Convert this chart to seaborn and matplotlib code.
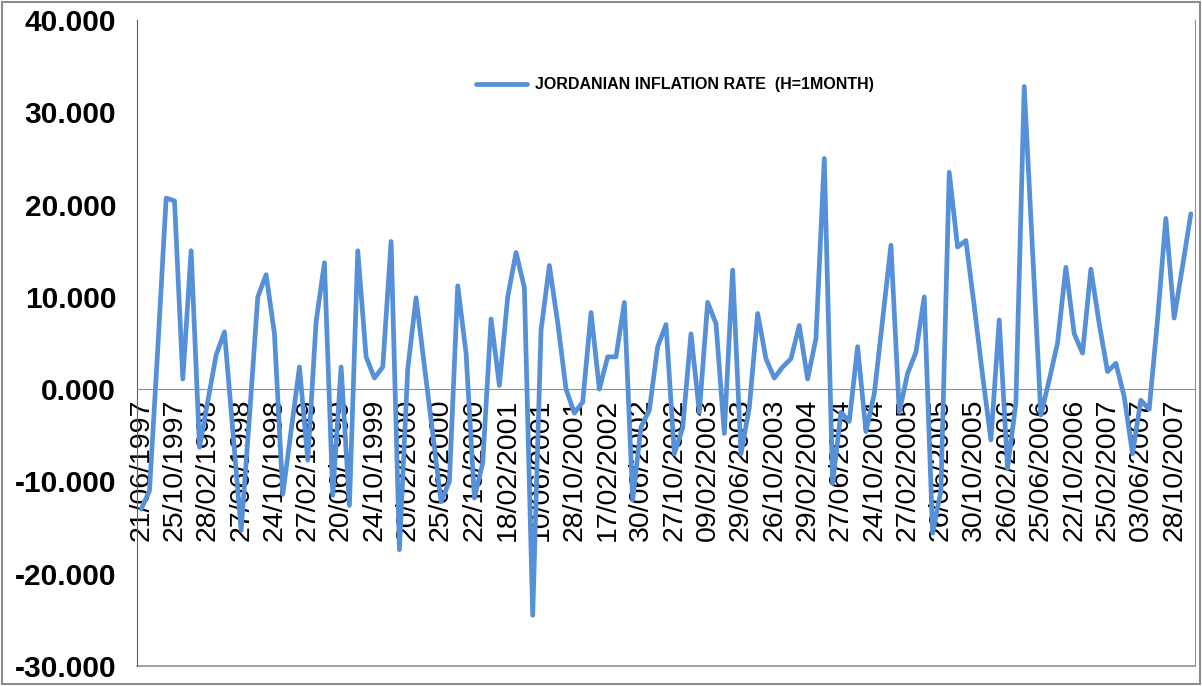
import numpy as np
import pandas as pd
import seaborn as sns
import matplotlib.pyplot as plt
from matplotlib.patches import Rectangle
from matplotlib.ticker import FixedLocator, FuncFormatter

# monthly inflation values (one per category)
inflation = [
    -13.0, -11.0, 4.5, 20.7, 20.4, 1.1, 15.0, -6.3, -1.3, 3.7,
    6.2, -4.5, -15.3, -3.0, 10.0, 12.4, 6.0, -11.4, -4.5, 2.4,
    -7.7, 7.3, 13.7, -11.5, 2.4, -12.6, 15.0, 3.5, 1.2, 2.4,
    16.0, -17.4, 2.2, 9.9, 2.5, -4.8, -12.2, -10.0, 11.2, 3.9,
    -11.8, -8.0, 7.6, 0.4, 10.0, 14.8, 11.0, -24.5, 6.4, 13.4,
    7.2, 0.0, -2.6, -1.4, 8.3, 0.0, 3.5, 3.5, 9.4, -12.0,
    -4.1, -2.3, 4.6, 7.0, -7.0, -4.2, 6.0, -2.5, 9.4, 7.1,
    -4.8, 12.9, -7.0, -2.0, 8.2, 3.3, 1.2, 2.4, 3.3, 6.9,
    1.1, 5.5, 25.0, -10.2, -2.5, -3.5, 4.6, -4.6, -0.5, 7.5,
    15.6, -2.5, 1.7, 4.0, 10.0, -15.6, -11.0, 23.5, 15.4, 16.1,
    9.0, 1.5, -5.5, 7.5, -8.6, -1.5, 32.8, 15.0, -2.8, 1.0,
    5.0, 13.2, 6.0, 3.9, 13.0, 7.1, 1.9, 2.8, -0.8, -7.0,
    -1.2, -2.2, 7.5, 18.5, 7.7, 13.3, 19.0,
]

# date labels shown under every 4th category
date_labels = [
    "21/06/1997", "25/10/1997", "28/02/1998", "27/06/1998", "24/10/1998",
    "27/02/1999", "20/06/1999", "24/10/1999", "20/02/2000", "25/06/2000",
    "22/10/2000", "18/02/2001", "10/06/2001", "28/10/2001", "17/02/2002",
    "30/06/2002", "27/10/2002", "09/02/2003", "29/06/2003", "26/10/2003",
    "29/02/2004", "27/06/2004", "24/10/2004", "27/02/2005", "26/06/2005",
    "30/10/2005", "26/02/2006", "25/06/2006", "22/10/2006", "25/02/2007",
    "03/06/2007", "28/10/2007",
]
label_step = 4

y_ticks = [-30, -20, -10, 0, 10, 20, 30, 40]

series_name = "JORDANIAN INFLATION RATE  (H=1MONTH)"

df = pd.DataFrame({"idx": np.arange(len(inflation)), "rate": inflation})

sns.set_style("white")
plt.rcParams['font.family'] = ['Liberation Sans', 'DejaVu Sans']
plt.rcParams['text.color'] = 'black'
plt.rcParams['xtick.color'] = 'black'
plt.rcParams['ytick.color'] = 'black'

fig = plt.figure(figsize=(12.02, 6.86), dpi=100)
ax = fig.add_axes([137 / 1202, 1 - 666 / 686, (1195 - 137) / 1202, 646 / 686])

sns.lineplot(data=df, x="idx", y="rate", ax=ax, color="#5590D8",
             linewidth=3.4, label=series_name)
ax.lines[0].set_zorder(3)  # line sits on top of the date labels

n = len(inflation)
ax.set_xlim(-0.5, n - 0.5)
ax.set_ylim(-30, 40)
ax.set_xlabel("")
ax.set_ylabel("")

# y axis
ax.yaxis.set_major_locator(FixedLocator(y_ticks))
ax.yaxis.set_major_formatter(FuncFormatter(lambda v, p: f"{v:.3f}"))
ax.tick_params(axis="y", direction="out", length=5, width=1, color="#808080",
               labelsize=21.5, labelcolor="black", pad=10)
for t in ax.get_yticklabels():
    t.set_fontweight("bold")

# x axis crossing at zero, ticks on category boundaries
ax.spines["bottom"].set_position(("data", 0))
ax.spines["bottom"].set_color("#909090")
ax.spines["left"].set_color("#606060")
ax.spines["right"].set_color("#909090")
ax.spines["top"].set_visible(False)
ax.axhline(-30, color="#909090", linewidth=1.2, clip_on=False)

label_pos = list(range(0, n, label_step))[:len(date_labels)]
ax.set_xticks(label_pos)
ax.set_xticklabels(date_labels, rotation=90, fontsize=20.5, va="top")
ax.tick_params(axis="x", which="major", length=0, pad=7, labelcolor="black")
ax.xaxis.set_minor_locator(FixedLocator(np.arange(-0.5, n, 1.0)))
ax.tick_params(axis="x", which="minor", direction="out", length=6,
               width=1, color="#909090")

leg = ax.legend(loc="center left", bbox_to_anchor=(462 / 1202, 1 - 85 / 686),
                bbox_transform=fig.transFigure, frameon=False,
                handlelength=3.2, handletextpad=0.45,
                prop={"size": 11.5, "weight": "bold"})

# outer chart frame
fig.patches.append(Rectangle((0.002, 0.003), 0.996, 0.994, transform=fig.transFigure,
                             fill=False, edgecolor="#8c8c8c", linewidth=1.5))

fig.savefig("out.png", dpi=100)
